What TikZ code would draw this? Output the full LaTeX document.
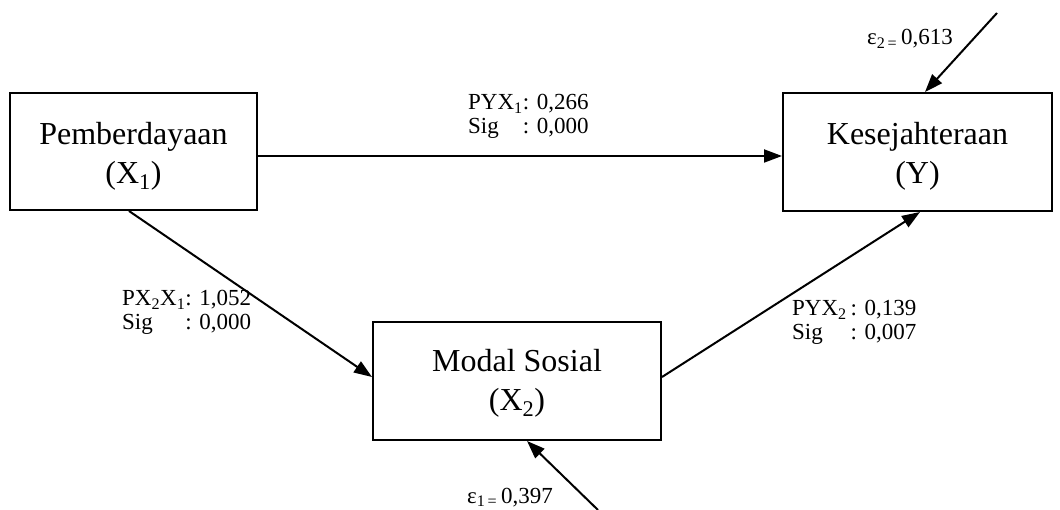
\documentclass[tikz,border=0pt]{standalone}
\usepackage{fontspec}
\setmainfont{Liberation Serif}
\usetikzlibrary{arrows.meta,calc}
\tikzset{
  varbox/.style={draw, line width=2pt, inner sep=0pt},
  vartext/.style={inner sep=0pt, align=center, font=\fontsize{32}{39}\selectfont},
  pathlabel/.style={inner sep=0pt, anchor=west, font=\fontsize{23}{24}\selectfont},
  errlabel/.style={inner sep=0pt, anchor=base west, font=\fontsize{23}{24}\selectfont},
  arr/.style={line width=2pt, -{Triangle[length=18pt,width=13pt]}}
}
\begin{document}
\begin{tikzpicture}[x=1pt,y=-1pt]
\useasboundingbox (0,0) rectangle (1060,510);
\node[varbox, minimum width=247pt, minimum height=117pt] (X1) at (133.5,151.5) {};
\node[varbox, minimum width=269pt, minimum height=118pt] (Y) at (917.5,152) {};
\node[varbox, minimum width=288pt, minimum height=118pt] (X2) at (517,381) {};
\node[vartext] (T1) at ($(X1.center)+(0,5)$) {Pemberdayaan\\(X\textsubscript{1})};
\node[vartext] (TY) at ($(Y.center)+(0,4)$) {Kesejahteraan\\(Y)};
\node[vartext] (T2) at ($(X2.center)+(0,2)$) {Modal Sosial\\(X\textsubscript{2})};
\coordinate (e2s) at (997,13);
\coordinate (e1s) at (598,510);
\draw[arr] ($(X1.east)+(-2,4.5)$) -- ($(Y.west)+(0,4)$);
\draw[arr] ($(X1.south)+(-4.5,0)$) -- ($(X2.west)+(0,-4)$);
\draw[arr] ($(X2.east)+(0,-4)$) -- ($(Y.south)+(2.5,0)$);
\draw[arr] (e2s) -- ($(Y.north)+(7.5,0)$);
\draw[arr] (e1s) -- ($(X2.south)+(10,0)$);
\node[pathlabel] (L1) at (468,117)
  {\begin{tabular}{@{}l@{}l@{}}PYX\textsubscript{1}&: 0,266\\Sig&: 0,000\end{tabular}};
\node[pathlabel] (L2) at (122,313)
  {\begin{tabular}{@{}l@{}l@{}}PX\textsubscript{2}X\textsubscript{1}&: 1,052\\Sig&: 0,000\end{tabular}};
\node[pathlabel] (L3) at (792,323)
  {\begin{tabular}{@{}l@{}l@{}}PYX\textsubscript{2}\,&: 0,139\\Sig&: 0,007\end{tabular}};
\node[errlabel] (E2) at (867,45) {ε\textsubscript{2\,=}\,0,613};
\node[errlabel] (E1) at (467,503) {ε\textsubscript{1\,=}\,0,397};
\end{tikzpicture}
\end{document}
